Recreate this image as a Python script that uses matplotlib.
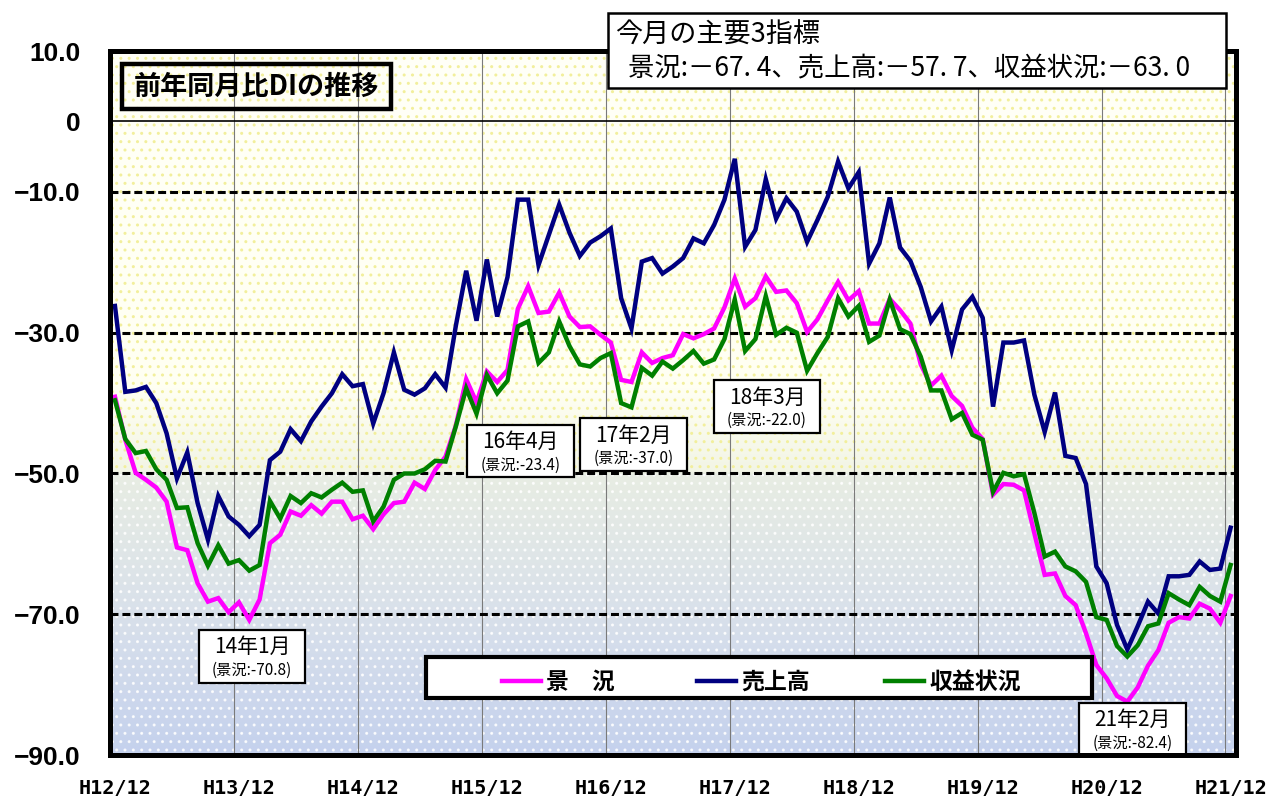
import matplotlib
matplotlib.use("Agg")
import matplotlib.pyplot as plt
import numpy as np
from matplotlib.patches import Rectangle
from matplotlib.lines import Line2D

# ---------------- data ----------------
keikyo = [-39.1, -45.2, -49.9, -50.9, -52.0, -54.0, -60.5, -60.9, -65.6, -68.2,
          -67.7, -69.7, -68.3, -70.8, -67.9, -59.9, -58.7, -55.4, -56.0, -54.5,
          -55.7, -54.0, -54.0, -56.5, -56.0, -57.9, -55.8, -54.2, -54.0, -51.3,
          -52.2, -49.5, -47.6, -43.2, -36.6, -39.9, -35.5, -37.0, -35.3, -26.6,
          -23.4, -27.2, -27.0, -24.3, -27.7, -29.2, -29.1, -30.3, -31.4, -36.7,
          -37.0, -32.8, -34.3, -33.6, -33.2, -30.2, -30.8, -30.2, -29.4, -26.4,
          -22.3, -26.3, -25.1, -22.0, -24.2, -24.0, -25.8, -29.9, -28.1, -25.4,
          -22.8, -25.4, -24.1, -28.7, -28.7, -25.2, -26.8, -28.7, -34.5, -37.5,
          -36.1, -39.0, -40.4, -43.5, -45.1, -53.0, -51.5, -51.6, -52.4, -58.5,
          -64.4, -64.2, -67.4, -68.7, -72.7, -77.2, -79.1, -81.6, -82.4, -80.4,
          -77.3, -75.1, -71.2, -70.4, -70.6, -68.5, -69.2, -71.2, -67.4]

uriage = [-26.2, -38.4, -38.2, -37.7, -40.0, -44.3, -50.7, -47.0, -54.2, -59.4,
          -53.2, -56.1, -57.3, -58.9, -57.3, -48.1, -46.9, -43.7, -45.4, -42.6,
          -40.5, -38.6, -35.9, -37.6, -37.3, -42.9, -38.6, -32.8, -38.1, -38.8,
          -37.9, -35.9, -37.8, -29.0, -21.2, -28.3, -19.6, -27.7, -22.1, -11.1,
          -11.1, -20.4, -16.1, -11.8, -15.8, -19.1, -17.2, -16.3, -15.2, -25.1,
          -29.4, -19.9, -19.4, -21.6, -20.6, -19.4, -16.6, -17.3, -14.7, -11.1,
          -5.3, -17.8, -15.4, -8.2, -13.8, -10.9, -12.8, -17.1, -14.0, -10.7,
          -5.7, -9.5, -7.2, -20.2, -17.3, -10.8, -17.9, -19.8, -23.5, -28.4,
          -26.3, -32.5, -26.7, -24.9, -27.9, -40.5, -31.4, -31.4, -31.1, -38.8,
          -44.1, -38.5, -47.5, -47.8, -51.5, -63.2, -65.6, -71.5, -75.0, -71.7,
          -68.2, -69.9, -64.6, -64.6, -64.4, -62.5, -63.7, -63.5, -57.7]

shueki = [-39.6, -45.1, -47.1, -46.8, -49.4, -50.9, -54.9, -54.8, -59.9, -63.1,
          -60.2, -62.8, -62.3, -63.8, -63.0, -53.9, -56.4, -53.2, -54.2, -52.8,
          -53.4, -52.3, -51.3, -52.6, -52.4, -56.8, -54.7, -50.9, -50.0, -50.0,
          -49.4, -48.2, -48.3, -43.3, -37.9, -41.5, -36.0, -38.6, -36.8, -29.1,
          -28.4, -34.3, -32.8, -28.4, -31.9, -34.5, -34.8, -33.6, -32.9, -40.0,
          -40.6, -35.0, -36.1, -34.1, -35.1, -33.9, -32.6, -34.4, -33.8, -30.9,
          -25.3, -32.6, -30.9, -24.8, -30.3, -29.3, -30.0, -35.4, -32.9, -30.6,
          -25.1, -27.7, -26.2, -31.3, -30.4, -25.3, -29.5, -30.2, -33.4, -38.2,
          -38.2, -42.3, -41.4, -44.5, -45.2, -52.6, -49.9, -50.4, -50.1, -55.6,
          -61.8, -61.1, -63.2, -63.9, -65.4, -70.4, -70.8, -74.5, -76.0, -74.4,
          -71.7, -71.3, -67.0, -67.9, -68.7, -66.1, -67.4, -68.2, -63.0]

series_names = ["景　況", "売上高", "収益状況"]
x_labels = ["H12/12", "H13/12", "H14/12", "H15/12", "H16/12",
            "H17/12", "H18/12", "H19/12", "H20/12", "H21/12"]
y_ticks = [10, 0, -10, -30, -50, -70, -90]
y_labels = ["10.0", "0", "\u221210.0", "\u221230.0", "\u221250.0", "\u221270.0", "\u221290.0"]
annot_idx = [13, 40, 50, 63, 98]          # months that are annotated (景況)

# ---------------- layout / style ----------------
W, H = 1270, 796
CJK = ["Noto Sans CJK JP", "DejaVu Sans"]
C_K, C_U, C_S = "#FF00FF", "#000080", "#008000"
LW = 3.2

def fx(px):
    return px / W

def fy(py):
    return 1 - py / H

fig = plt.figure(figsize=(W / 100, H / 100), dpi=100)
fig.patch.set_facecolor("white")
ax = fig.add_axes([109.8 / W, 1 - 755.1 / H, 1126 / W, 704 / H])

n = len(keikyo)
xs = np.arange(n)

# background gradient
vv = np.linspace(10, -90, 500)
nodes_v = [10, -38, -49.9, -50.1, -70, -90]
nodes_c = [(1.0, 1.0, 0.97), (1.0, 1.0, 0.95), (0.95, 0.96, 0.90),
           (0.91, 0.93, 0.89), (0.85, 0.88, 0.92), (0.77, 0.82, 0.93)]
img = np.zeros((len(vv), 1, 3))
for ch in range(3):
    img[:, 0, ch] = np.interp(-vv, [-v for v in nodes_v], [c[ch] for c in nodes_c])
ax.imshow(img, extent=(-0.5, n - 0.5, -90, 10), aspect="auto", zorder=0,
          interpolation="bilinear")
ax.add_patch(Rectangle((-0.5, -50), n, 60, facecolor="none", edgecolor="#f2ef9c",
                       hatch="..", lw=0, zorder=0.5))
ax.add_patch(Rectangle((-0.5, -90), n, 40, facecolor="none", edgecolor="#ffffff",
                       hatch="..", lw=0, zorder=0.5, alpha=0.8))

ax.set_xlim(-0.5, n - 0.5)
ax.set_ylim(-90, 10)

# grid lines
for v in [-10, -30, -50, -70]:
    ax.axhline(v, color="black", lw=2.2, ls=(0, (2.6, 1.3)), zorder=2)
ax.axhline(0, color="black", lw=1.2, zorder=2)
for k in range(1, len(x_labels)):
    ax.axvline(12 * k - 0.5, color="#7a7a7a", lw=0.8, zorder=1.5)

# series
ax.plot(xs, keikyo, color=C_K, lw=LW, zorder=3, solid_joinstyle="miter")
ax.plot(xs, uriage, color=C_U, lw=LW, zorder=3.1, solid_joinstyle="miter")
ax.plot(xs, shueki, color=C_S, lw=LW, zorder=3.2, solid_joinstyle="miter")

# ticks
ax.set_yticks(y_ticks)
ax.set_yticklabels(y_labels, fontfamily="Liberation Sans", fontweight="bold", fontsize=19)
ax.set_xticks(range(0, n, 12))
ax.set_xticklabels(x_labels, fontfamily="DejaVu Sans Mono", fontweight="bold", fontsize=14.5)
ax.tick_params(axis="y", length=0, pad=21)
ax.tick_params(axis="x", length=0, pad=17)
for s in ax.spines.values():
    s.set_linewidth(3.6)
    s.set_zorder(8)

# annotation boxes (景況 values)
box_layout = [(13.26, -76.0), (39.25, -46.8), (50.2, -45.9), (63.12, -40.5), (98.5, -86.3)]
bw, bh = 10.3, 7.5
for idx, (cx, cy) in zip(annot_idx, box_layout):
    total = 155 + idx
    yy, mm = total // 12, total % 12 + 1
    ax.add_patch(Rectangle((cx - bw / 2, cy - bh / 2), bw, bh, facecolor="white",
                           edgecolor="black", lw=1.6, zorder=5))
    ax.text(cx, cy + 1.3, f"{yy}年{mm}月", ha="center", va="center", fontsize=15,
            family=CJK, zorder=6)
    ax.text(cx, cy - 2.0, f"(景況:{keikyo[idx]:.1f})", ha="center", va="center",
            fontsize=11, family=CJK, zorder=6)

# title box
fig.add_artist(Rectangle((fx(122), fy(109)), (391 - 122) / W, 45 / H, transform=fig.transFigure,
                         facecolor="none", edgecolor="black", lw=3.2, zorder=10))
fig.text(fx(256), fy(87), "前年同月比DIの推移", ha="center", va="center", fontsize=19.5,
         fontweight="bold", family=CJK, zorder=11)

# top box with current values
def fmt(v):
    return f"{abs(v):.1f}".replace(".", ". ")

fig.add_artist(Rectangle((fx(608), fy(88)), (1226 - 608) / W, 75 / H, transform=fig.transFigure,
                         facecolor="white", edgecolor="black", lw=1.8, zorder=10))
fig.text(fx(615), fy(35), "今月の主要3指標", ha="left", va="center", fontsize=19.5,
         family=CJK, zorder=11)
line2 = (f"景況:－{fmt(keikyo[-1])}、売上高:－{fmt(uriage[-1])}、"
         f"収益状況:－{fmt(shueki[-1])}")
fig.text(fx(628), fy(68), line2, ha="left", va="center", fontsize=19, family=CJK, zorder=11)

# legend
fig.add_artist(Rectangle((fx(426), fy(698)), (1092 - 426) / W, 41 / H, transform=fig.transFigure,
                         facecolor="white", edgecolor="black", lw=3.0, zorder=10))
leg_x = [502, 697, 885]
for lx, name, col in zip(leg_x, series_names, [C_K, C_U, C_S]):
    fig.add_artist(Line2D([fx(lx), fx(lx + 39)], [fy(681), fy(681)], transform=fig.transFigure,
                          color=col, lw=LW, zorder=11))
    fig.text(fx(lx + 44), fy(682), name, ha="left", va="center", fontsize=16.5,
             fontweight="bold", family=CJK, zorder=11)

fig.savefig("out.png", dpi=100)
